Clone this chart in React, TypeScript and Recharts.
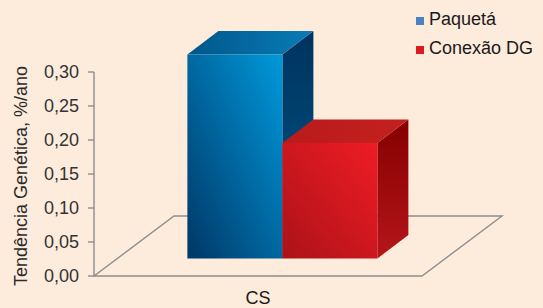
import React from "react";
import {
  BarChart,
  Bar,
  XAxis,
  YAxis,
  Legend,
  ReferenceArea,
} from "recharts";

const categories = ["CS"];
const paquetaValues = [0.3];
const conexaoValues = [0.17];
const seriesNames = ["Paquetá", "Conexão DG"];
const yTicks = [0, 0.05, 0.1, 0.15, 0.2, 0.25, 0.3];

const data = categories.map((name, i) => ({
  name,
  paqueta: paquetaValues[i],
  conexao: conexaoValues[i],
}));

const FONT = "'Liberation Sans', Arial, Helvetica, sans-serif";
const AXIS = "#8e8e8e";

// oblique projection used for the fake 3D look
const FRONT_DX = 24.5;
const FRONT_DY = -17.5;
const DEPTH_DX = 31;
const DEPTH_DY = -23.5;
const FLOOR_DX = 80;
const FLOOR_DY = -60;

const makeBox = (id: string) => (props: any) => {
  const { x, y, width, height } = props;
  if (width == null || height == null) return <g />;
  const fx = x + FRONT_DX;
  const fy = y + FRONT_DY;
  const top = [
    [fx, fy],
    [fx + DEPTH_DX, fy + DEPTH_DY],
    [fx + width + DEPTH_DX, fy + DEPTH_DY],
    [fx + width, fy],
  ];
  const side = [
    [fx + width, fy],
    [fx + width + DEPTH_DX, fy + DEPTH_DY],
    [fx + width + DEPTH_DX, fy + height + DEPTH_DY],
    [fx + width, fy + height],
  ];
  const pts = (p: number[][]) => p.map((q) => q.join(",")).join(" ");
  return (
    <g>
      <polygon points={pts(side)} fill={`url(#${id}-side)`} />
      <polygon points={pts(top)} fill={`url(#${id}-top)`} />
      <rect x={fx} y={fy} width={width} height={height} fill={`url(#${id}-front)`} />
    </g>
  );
};

const Floor = (props: any) => {
  const { x, y, width, height } = props;
  const by = y + height;
  const p = [
    [x, by],
    [x + width, by],
    [x + width + FLOOR_DX, by + FLOOR_DY],
    [x + FLOOR_DX, by + FLOOR_DY],
  ];
  return (
    <polygon
      points={p.map((q) => q.join(",")).join(" ")}
      fill="none"
      stroke={AXIS}
      strokeWidth={1.4}
    />
  );
};

const YLabel = (props: any) => {
  const vb = props.viewBox || {};
  const cx = vb.x + 7;
  const cy = vb.y + vb.height / 2 + 2;
  return (
    <text
      x={cx}
      y={cy}
      transform={`rotate(-90 ${cx} ${cy})`}
      textAnchor="middle"
      dominantBaseline="central"
      fontSize={18}
      fill="#2a2a2a"
      fontFamily={FONT}
    >
      Tendência Genética, %/ano
    </text>
  );
};

const LegendContent = (props: any) => {
  const { payload = [] } = props;
  const items = [...payload].sort(
    (a: any, b: any) => seriesNames.indexOf(a.value) - seriesNames.indexOf(b.value)
  );
  return (
    <div style={{ fontFamily: FONT, fontSize: 18, color: "#1a1a1a" }}>
      {items.map((entry: any) => (
        <div
          key={entry.value}
          style={{ display: "flex", alignItems: "center", height: 29, lineHeight: "29px" }}
        >
          <span
            style={{
              display: "inline-block",
              width: 8,
              height: 8,
              background: entry.color,
              marginRight: 5,
              position: "relative",
              top: 1.5,
            }}
          />
          <span>{entry.value}</span>
        </div>
      ))}
    </div>
  );
};

export default function App() {
  return (
    <div
      style={{
        position: "absolute",
        left: 0,
        top: 0,
        width: 543,
        height: 308,
        background: "#fdebdc",
      }}
    >
      <BarChart
        width={543}
        height={308}
        data={data}
        margin={{ top: 72, right: 121, left: 14, bottom: 2 }}
        barCategoryGap="21%"
        barGap={0}
      >
        <defs>
          <linearGradient id="blue-front" x1="1" y1="0" x2="0" y2="1">
            <stop offset="0%" stopColor="#0099db" />
            <stop offset="100%" stopColor="#003766" />
          </linearGradient>
          <linearGradient id="blue-top" x1="0" y1="0" x2="1" y2="0">
            <stop offset="0%" stopColor="#00578b" />
            <stop offset="100%" stopColor="#0a7cb6" />
          </linearGradient>
          <linearGradient id="blue-side" x1="0" y1="0" x2="0" y2="1">
            <stop offset="0%" stopColor="#00335f" />
            <stop offset="100%" stopColor="#005688" />
          </linearGradient>
          <linearGradient id="red-front" x1="1" y1="0" x2="0" y2="1">
            <stop offset="0%" stopColor="#ef1c25" />
            <stop offset="100%" stopColor="#ac1218" />
          </linearGradient>
          <linearGradient id="red-top" x1="0" y1="0" x2="1" y2="0">
            <stop offset="0%" stopColor="#b91b1b" />
            <stop offset="100%" stopColor="#c3211f" />
          </linearGradient>
          <linearGradient id="red-side" x1="0" y1="0" x2="0" y2="1">
            <stop offset="0%" stopColor="#850000" />
            <stop offset="100%" stopColor="#b5161a" />
          </linearGradient>
        </defs>
        <ReferenceArea y1={0} y2={0.3} shape={Floor} />
        <XAxis
          dataKey="name"
          axisLine={false}
          tickLine={false}
          tickSize={0}
          tickMargin={15}
          tick={{ fontSize: 18, fill: "#1a1a1a", fontFamily: FONT }}
        />
        <YAxis
          width={80}
          domain={[0, 0.3]}
          ticks={yTicks}
          tickFormatter={(v: number) => v.toFixed(2).replace(".", ",")}
          tickSize={6}
          tickMargin={9}
          axisLine={{ stroke: AXIS, strokeWidth: 1.4 }}
          tickLine={{ stroke: AXIS, strokeWidth: 1.4 }}
          tick={{ fontSize: 18, fill: "#333", fontFamily: FONT }}
          label={<YLabel />}
        />
        <Legend
          layout="vertical"
          align="center"
          verticalAlign="middle"
          wrapperStyle={{ left: 416, top: 5, width: "auto" }}
          content={<LegendContent />}
        />
        <Bar
          dataKey="paqueta"
          name={seriesNames[0]}
          fill="#4a80c4"
          shape={makeBox("blue")}
          isAnimationActive={false}
        />
        <Bar
          dataKey="conexao"
          name={seriesNames[1]}
          fill="#d81c20"
          shape={makeBox("red")}
          isAnimationActive={false}
        />
      </BarChart>
    </div>
  );
}
